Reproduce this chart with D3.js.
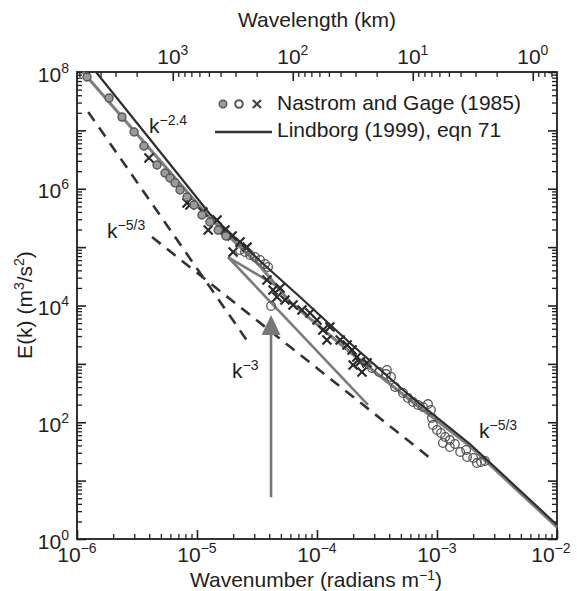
<!DOCTYPE html>
<meta charset="utf-8">
<script src="https://d3js.org/d3.v7.min.js"></script>
<style>
  body { margin: 0; background: #fff; }
  text { font-family: "Liberation Sans", Arial, Helvetica, sans-serif; fill: #1e1e1e; }
</style>
<div id="chart"></div>
<script>
// ---- values: [wavenumber k (rad/m), E(k) (m^3/s^2)] ----
var ngFilled = [
  [1.21e-6, 8.2e7], [1.85e-6, 3.59e7], [2.37e-6, 1.69e7], [2.99e-6, 9.38e6],
  [3.61e-6, 5.40e6], [4.64e-6, 2.55e6], [5.41e-6, 1.86e6], [5.96e-6, 1.53e6],
  [6.56e-6, 1.26e6], [7.22e-6, 9.52e5], [8.25e-6, 7.22e5], [9.44e-6, 5.27e5],
  [1.10e-5, 3.55e5], [1.28e-5, 2.69e5], [1.50e-5, 1.96e5], [1.74e-5, 1.55e5]
];
var ngOpen = [
  [2.28e-5, 8.93e4], [2.51e-5, 8.25e4], [2.77e-5, 7.33e4], [3.04e-5, 6.77e4],
  [3.35e-5, 6.02e4], [3.69e-5, 5.14e4], [3.91e-5, 4.57e4], [4.14e-5, 9.8e3],
  [2.51e-4, 1080], [2.87e-4, 850], [3.29e-4, 726], [3.76e-4, 671], [3.82e-4, 785],
  [4.14e-4, 596], [4.47e-4, 402], [5.21e-4, 317], [5.73e-4, 260], [6.31e-4, 222],
  [6.95e-4, 198], [7.64e-4, 183], [8.41e-4, 205], [8.91e-4, 162], [9.08e-4, 118],
  [9.26e-4, 89.7], [1.0e-3, 73.6], [1.08e-3, 65.4], [1.17e-3, 55.9], [1.28e-3, 49.6],
  [1.12e-3, 44.2], [1.28e-3, 37.7], [1.41e-3, 42.4], [1.56e-3, 30.9], [1.75e-3, 33.5],
  [1.78e-3, 25.4], [2.0e-3, 24.4], [2.15e-3, 20.0], [2.33e-3, 20.8], [2.51e-3, 21.7]
];
var ngCross = [
  [3.98e-6, 3.37e6], [8.26e-6, 5.70e5], [8.74e-6, 5.27e5], [1.12e-5, 4.00e5],
  [1.24e-5, 1.96e5], [1.47e-5, 2.92e5], [1.71e-5, 1.96e5], [1.96e-5, 1.55e5],
  [2.0e-5, 8.25e4], [2.28e-5, 1.22e5], [2.61e-5, 1.0e5], [3.83e-5, 2.73e4],
  [4.30e-5, 1.84e4], [4.92e-5, 2.0e4], [4.64e-5, 1.40e4], [5.41e-5, 1.24e4],
  [6.31e-5, 1.02e4], [7.50e-5, 8370], [8.74e-5, 7440], [1.0e-4, 5650],
  [1.12e-4, 3800], [1.28e-4, 4280], [1.21e-4, 2560], [1.56e-4, 2560],
  [1.78e-4, 2110], [1.96e-4, 1730], [2.15e-4, 1310], [2.28e-4, 1080],
  [2.0e-4, 957], [2.37e-4, 726], [2.61e-4, 1040]
];
// grey fit: k^-2.4 at large scales bending to k^-5/3
var fitLine = [
  [1.12e-6, 1e8], [1.28e-5, 3.16e5], [3.35e-5, 4.75e4], [5.96e-5, 1.15e4],
  [1.88e-4, 1600], [5.96e-4, 240], [1.88e-3, 39.2], [1e-2, 1.6]
];
// Lindborg (1999), eqn 71
var lindborg = [
  [1.44e-6, 1e8], [3.98e-6, 7.40e6], [1.28e-5, 3.69e5], [3.35e-5, 5.78e4],
  [7.22e-5, 1.40e4], [1.88e-4, 2280], [5.96e-4, 282], [1.88e-3, 42.4], [1e-2, 1.74]
];
var greySeg1 = [[1.81e-5, 6.77e4], [2.66e-4, 198]];
var greySeg2 = [[1.81e-5, 6.77e4], [4.47e-5, 2.24e4]];
var dashK3 = [[1.24e-6, 2.07e7], [2.77e-5, 2110]];
var dashK53 = [[4.22e-6, 1.49e5], [8.75e-4, 24.4]];
var arrowK = 4.14e-5, arrowFromE = 5.2, arrowToE = 6870;

var slopeLabels = [
  {k: 3.98e-6, e: 9.0e6, base: "k", sup: "\u22122.4"},
  {k: 1.78e-6, e: 1.43e5, base: "k", sup: "\u22125/3"},
  {k: 1.96e-5, e: 573, base: "k", sup: "\u22123"},
  {k: 2.24e-3, e: 53.7, base: "k", sup: "\u22125/3"}
];
var xExp = ["\u22126", "\u22125", "\u22124", "\u22123", "\u22122"];
var yExp = ["0", "2", "4", "6", "8"];
var topExp = ["3", "2", "1", "0"];

// ---- layout ----
var margin = {top: 72, right: 20, bottom: 52, left: 77},
    width = 577 - margin.left - margin.right,
    height = 591 - margin.top - margin.bottom;

var svg = d3.select("#chart").append("svg")
    .attr("width", 577).attr("height", 591);
var g = svg.append("g")
    .attr("transform", "translate(" + margin.left + "," + margin.top + ")");

var x = d3.scaleLog().domain([1e-6, 1e-2]).range([0, width]);
var y = d3.scaleLog().domain([1, 1e8]).range([height, 0]);
// wavelength in km = 2*pi/k / 1000
var xTop = d3.scaleLog()
    .domain([2 * Math.PI / 1e-6 / 1000, 2 * Math.PI / 1e-2 / 1000])
    .range([0, width]);

function logTicks(lo, hi) {
  var major = [], minor = [];
  for (var n = Math.floor(Math.log10(lo)); n <= Math.ceil(Math.log10(hi)); n++) {
    var p = Math.pow(10, n);
    if (p >= lo * 0.999 && p <= hi * 1.001) major.push(p);
    for (var m = 2; m <= 9; m++) {
      var v = m * p;
      if (v >= lo && v <= hi) minor.push(v);
    }
  }
  return {major: major, minor: minor};
}

var tx = logTicks(1e-6, 1e-2), ty = logTicks(1, 1e8),
    tt = logTicks(2 * Math.PI / 1e-2 / 1000, 2 * Math.PI / 1e-6 / 1000);

function addAxis(axisFn, scale, vals, size, sw, transform) {
  var a = g.append("g")
    .attr("transform", transform || null)
    .call(axisFn(scale).tickValues(vals).tickSize(-size).tickFormat(""));
  a.select(".domain").remove();
  a.selectAll("line").attr("stroke", "#1e1e1e").attr("stroke-width", sw);
}
addAxis(d3.axisBottom, x, tx.major, 9, 1.6, "translate(0," + height + ")");
addAxis(d3.axisBottom, x, tx.minor, 5, 1.3, "translate(0," + height + ")");
addAxis(d3.axisTop, xTop, tt.major, 9, 1.6);
addAxis(d3.axisTop, xTop, tt.minor, 5, 1.3);
addAxis(d3.axisLeft, y, ty.major, 9, 1.6);
addAxis(d3.axisLeft, y, ty.minor, 5, 1.3);
addAxis(d3.axisRight, y, ty.major, 9, 1.6, "translate(" + width + ",0)");
addAxis(d3.axisRight, y, ty.minor, 5, 1.3, "translate(" + width + ",0)");

g.append("rect").attr("width", width).attr("height", height)
  .attr("fill", "none").attr("stroke", "#1e1e1e").attr("stroke-width", 1.8);

// text with superscript
function supText(sel, base, sup, tail, size, supSize, rise) {
  sel.append("tspan").style("font-size", size + "px").text(base);
  sel.append("tspan").attr("dy", -rise).style("font-size", supSize + "px").text(sup);
  if (tail) sel.append("tspan").attr("dy", rise).style("font-size", size + "px").text(tail);
}

// tick labels
tx.major.forEach(function(v, i) {
  var cx = Math.min(x(v), width - 6);
  var t = g.append("text").attr("x", cx).attr("y", height + 23)
    .attr("text-anchor", "middle");
  supText(t, "10", xExp[i], null, 21, 14, 9);
});
ty.major.filter(function(v, i) { return i % 2 === 0; }).forEach(function(v, i) {
  var t = g.append("text").attr("x", -8).attr("y", y(v) + 9.5)
    .attr("text-anchor", "end");
  supText(t, "10", yExp[i], null, 21, 14, 9);
});
tt.major.slice().reverse().forEach(function(v, i) {
  var t = g.append("text").attr("x", xTop(v)).attr("y", -8)
    .attr("text-anchor", "middle");
  supText(t, "10", topExp[i], null, 21, 14, 9);
});

// axis titles
svg.append("text").attr("x", 317).attr("y", 27).attr("text-anchor", "middle")
  .style("font-size", "21px").text("Wavelength (km)");
var bt = svg.append("text").attr("x", 316).attr("y", 587).attr("text-anchor", "middle");
supText(bt, "Wavenumber (radians m", "\u22121", ")", 21, 14, 7);
var lt = svg.append("text").attr("transform", "translate(32,305) rotate(-90)")
  .attr("text-anchor", "middle");
lt.append("tspan").style("font-size", "21px").text("E(k) (m");
lt.append("tspan").attr("dy", -8).style("font-size", "14px").text("3");
lt.append("tspan").attr("dy", 8).style("font-size", "21px").text("/s");
lt.append("tspan").attr("dy", -8).style("font-size", "14px").text("2");
lt.append("tspan").attr("dy", 8).style("font-size", "21px").text(")");

// ---- marks ----
var line = d3.line().x(function(d) { return x(d[0]); }).y(function(d) { return y(d[1]); });
var plot = g.append("g");

[dashK3, dashK53].forEach(function(d) {
  plot.append("path").datum(d).attr("d", line).attr("fill", "none")
    .attr("stroke", "#333").attr("stroke-width", 2.6).attr("stroke-dasharray", "11,8");
});
[greySeg1, greySeg2].forEach(function(d) {
  plot.append("path").datum(d).attr("d", line).attr("fill", "none")
    .attr("stroke", "#7b7b7b").attr("stroke-width", 2.6);
});
plot.append("path").datum(fitLine).attr("d", line).attr("fill", "none")
  .attr("stroke", "#7f7f7f").attr("stroke-width", 3.2);

// arrow
plot.append("line")
  .attr("x1", x(arrowK)).attr("x2", x(arrowK))
  .attr("y1", y(arrowFromE)).attr("y2", y(arrowToE) + 18)
  .attr("stroke", "#777").attr("stroke-width", 2.6);
plot.append("path")
  .attr("transform", "translate(" + x(arrowK) + "," + y(arrowToE) + ")")
  .attr("d", "M0,0L-9.5,20L9.5,20Z").attr("fill", "#777");

plot.selectAll(".cross").data(ngCross).enter().append("path")
  .attr("transform", function(d) { return "translate(" + x(d[0]) + "," + y(d[1]) + ")"; })
  .attr("d", d3.symbol(d3.symbolTimes, 55))
  .attr("fill", "none").attr("stroke", "#2a2a2a").attr("stroke-width", 2.2);

plot.selectAll(".filled").data(ngFilled).enter().append("circle")
  .attr("cx", function(d) { return x(d[0]); }).attr("cy", function(d) { return y(d[1]); })
  .attr("r", 4).attr("fill", "#9a9a9a").attr("stroke", "#555").attr("stroke-width", 1.4);

plot.selectAll(".open").data(ngOpen).enter().append("circle")
  .attr("cx", function(d) { return x(d[0]); }).attr("cy", function(d) { return y(d[1]); })
  .attr("r", 4.3).attr("fill", "none").attr("stroke", "#555").attr("stroke-width", 1.3);

plot.append("path").datum(lindborg).attr("d", line).attr("fill", "none")
  .attr("stroke", "#2e2e2e").attr("stroke-width", 2.2);

// slope labels
slopeLabels.forEach(function(l) {
  var t = plot.append("text").attr("x", x(l.k)).attr("y", y(l.e));
  supText(t, l.base, l.sup, null, 21, 14, 8);
});

// legend
var leg = svg.append("g");
leg.append("circle").attr("cx", 223).attr("cy", 104).attr("r", 3.8)
  .attr("fill", "#9a9a9a").attr("stroke", "#555").attr("stroke-width", 1.4);
leg.append("circle").attr("cx", 239).attr("cy", 104).attr("r", 3.8)
  .attr("fill", "none").attr("stroke", "#555").attr("stroke-width", 2);
leg.append("path").attr("transform", "translate(257,104)")
  .attr("d", d3.symbol(d3.symbolTimes, 45))
  .attr("fill", "none").attr("stroke", "#444").attr("stroke-width", 2.2);
leg.append("text").attr("x", 277).attr("y", 110).style("font-size", "21px")
  .text("Nastrom and Gage (1985)");
leg.append("line").attr("x1", 215).attr("x2", 272).attr("y1", 132).attr("y2", 132)
  .attr("stroke", "#333").attr("stroke-width", 2.6);
leg.append("text").attr("x", 277).attr("y", 137).style("font-size", "21px")
  .text("Lindborg (1999), eqn 71");
</script>
